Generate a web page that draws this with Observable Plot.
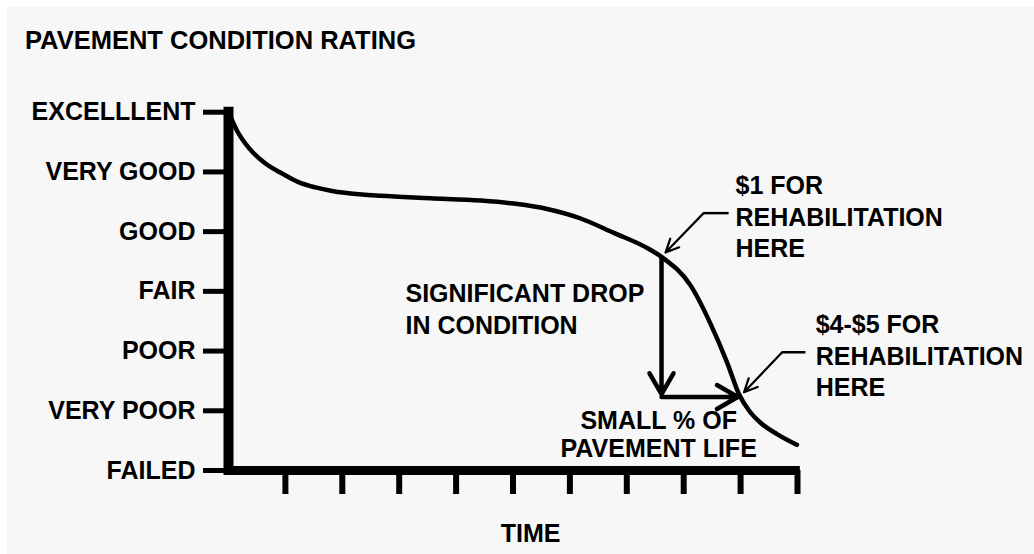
<!DOCTYPE html>
<html>
<head>
<meta charset="utf-8">
<script src="https://cdn.jsdelivr.net/npm/d3@7"></script>
<script src="https://cdn.jsdelivr.net/npm/@observablehq/plot@0.6"></script>
<style>
  html, body { margin: 0; padding: 0; background: #ffffff; }
  #wrap { position: relative; width: 1034px; height: 554px; background: #f7f7f7;
          box-shadow: inset 7px 7px 0 #ffffff; overflow: hidden;
          font-family: "Liberation Sans", Arial, sans-serif; }
  #title { position: absolute; left: 25px; top: 27px; margin: 0; font-size: 25.5px;
           line-height: 26px; font-weight: bold; color: #000; white-space: nowrap; }
  #chart { position: absolute; left: 0; top: 70px; }
</style>
</head>
<body>
<div id="wrap">
  <div id="title">PAVEMENT CONDITION RATING</div>
  <div id="chart"></div>
</div>
<script>
// ---- data ----
const ratingLabels = ["FAILED", "VERY POOR", "POOR", "FAIR", "GOOD", "VERY GOOD", "EXCELLLENT"];
const ratingValues = [0, 1, 2, 3, 4, 5, 6];
const timeTicks = [1, 2, 3, 4, 5, 6, 7, 8, 9, 10];
const axisLabelX = "TIME";

// deterioration curve (time units, rating units)
const curveTime   = [0, 0.15, 0.35, 0.65, 0.95, 1.23, 1.53, 1.82, 2.35, 2.67, 3.55, 4.43, 5.01, 5.60, 6.19, 6.77, 7.33, 7.62, 8.12, 8.47, 8.77, 8.97, 9.15, 9.35, 9.64, 9.99];
const curveRating = [6, 5.69, 5.41, 5.14, 4.97, 4.83, 4.74, 4.68, 4.62, 4.60, 4.56, 4.52, 4.47, 4.38, 4.22, 3.98, 3.74, 3.57, 3.10, 2.46, 1.79, 1.28, 1.00, 0.80, 0.61, 0.43];

// annotations (anchored in data units)
const noteText   = ["$1 FOR\nREHABILITATION\nHERE", "$4-$5 FOR\nREHABILITATION\nHERE", "SIGNIFICANT DROP\nIN CONDITION", "SMALL % OF\nPAVEMENT LIFE"];
const noteX      = [8.91, 10.32, 3.11, 7.56];
const noteY      = [4.27, 1.94, 2.73, 0.61];
const noteAnchor = ["start", "start", "start", "middle"];
const noteLineH  = [1.27, 1.26, 1.27, 1.1];

// drop arrows (thick)
const dropArrows = [
  {x1: 7.61, y1: 3.57, x2: 7.61, y2: 1.28},
  {x1: 7.61, y1: 1.23, x2: 8.95, y2: 1.23}
];
// leader arrows (thin) and their horizontal stubs
const leaderArrows = [
  {x1: 8.35, y1: 4.31, x2: 7.68, y2: 3.65},
  {x1: 9.73, y1: 1.98, x2: 9.06, y2: 1.31}
];
const leaderStubs = [
  {x1: 8.35, y1: 4.31, x2: 8.79, y2: 4.31},
  {x1: 9.73, y1: 1.98, x2: 10.14, y2: 1.98}
];

const curve = curveTime.map((t, i) => ({t, r: curveRating[i]}));
const font = {fontSize: 25, fontWeight: "bold", fill: "#000"};

const noteMarks = noteText.map((txt, i) =>
  Plot.text([txt], {x: noteX[i], y: noteY[i], text: d => d, textAnchor: noteAnchor[i],
                    lineHeight: noteLineH[i], lineAnchor: "middle", ...font}));

const chart = Plot.plot({
  width: 1034,
  height: 484,
  marginLeft: 228,
  marginRight: 237,
  marginTop: 41.7,
  marginBottom: 84,
  x: {domain: [0, 10]},
  y: {domain: [0, 6]},
  style: {background: "transparent", color: "#000", fontFamily: "'Liberation Sans', Arial, sans-serif", fontWeight: "bold", overflow: "visible"},
  marks: [
    Plot.axisY(ratingValues, {tickSize: 25, tickPadding: 8, strokeWidth: 5, tickFormat: d => ratingLabels[d], label: null, ...font}),
    Plot.axisX(timeTicks, {tickSize: 24, strokeWidth: 6, tickFormat: () => "", label: null}),
    Plot.ruleX([0], {y1: 0, y2: 6, strokeWidth: 10, strokeLinecap: "square", stroke: "#000"}),
    Plot.ruleY([0], {x1: 0, x2: 10.05, strokeWidth: 9, stroke: "#000"}),
    Plot.line(curve, {x: "t", y: "r", curve: "monotone-x", strokeWidth: 4.5, stroke: "#000"}),
    Plot.arrow(dropArrows, {x1: "x1", y1: "y1", x2: "x2", y2: "y2", strokeWidth: 4.5, headLength: 8, headAngle: 60, stroke: "#000"}),
    Plot.link(leaderStubs, {x1: "x1", y1: "y1", x2: "x2", y2: "y2", strokeWidth: 2.5, stroke: "#000"}),
    Plot.arrow(leaderArrows, {x1: "x1", y1: "y1", x2: "x2", y2: "y2", strokeWidth: 2.2, headLength: 10, headAngle: 50, stroke: "#000"}),
    ...noteMarks,
    Plot.text([axisLabelX], {x: 5.31, y: -1.07, text: d => d, textAnchor: "middle", ...font})
  ]
});
document.getElementById("chart").appendChild(chart);
</script>
</body>
</html>
